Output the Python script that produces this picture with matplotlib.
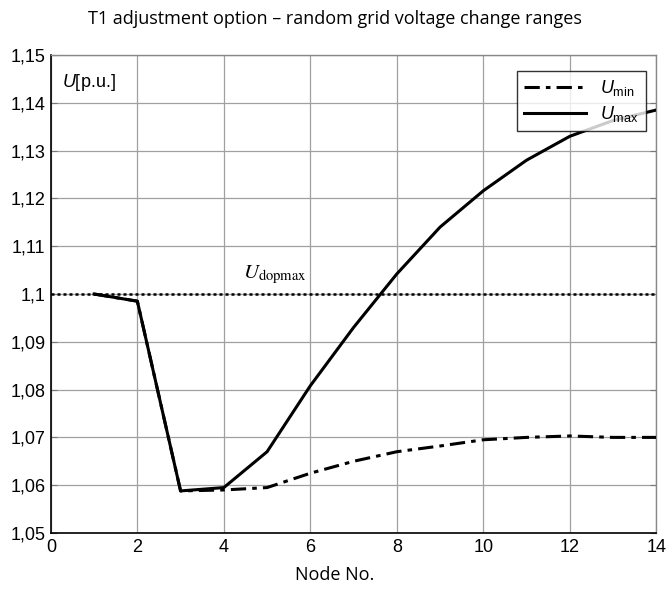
import matplotlib
matplotlib.use("Agg")
import matplotlib.pyplot as plt

nodes = [1, 2, 3, 4, 5, 6, 7, 8, 9, 10, 11, 12, 13, 14]
u_max = [1.1000, 1.0985, 1.0588, 1.0595, 1.0670, 1.0808, 1.0930, 1.1042, 1.1140,
         1.1216, 1.1280, 1.1330, 1.1363, 1.1385]
u_min = [1.1000, 1.0985, 1.0588, 1.0590, 1.0595, 1.0625, 1.0650, 1.0670, 1.0682,
         1.0695, 1.0700, 1.0703, 1.0700, 1.0700]
u_dopmax = 1.1
xticks = [0, 2, 4, 6, 8, 10, 12, 14]
yticks = [1.05, 1.06, 1.07, 1.08, 1.09, 1.10, 1.11, 1.12, 1.13, 1.14, 1.15]
ytick_labels = ["1,05", "1,06", "1,07", "1,08", "1,09", "1,1", "1,11", "1,12", "1,13", "1,14", "1,15"]

plt.rcParams["mathtext.fontset"] = "custom"
plt.rcParams["mathtext.rm"] = "Liberation Sans"
plt.rcParams["mathtext.it"] = "Liberation Sans:italic"

fig = plt.figure(figsize=(6.69, 5.92), dpi=100)
ax = fig.add_axes([0.076, 0.0997, 0.905, 0.8073])

ax.axhline(u_dopmax, color="black", linestyle=(0, (1.2, 1.2)), linewidth=1.8, zorder=2)
l1, = ax.plot(nodes, u_min, color="black", linestyle=(0, (5, 2, 1.5, 2)), linewidth=2.2, label="min", zorder=3)
l2, = ax.plot(nodes, u_max, color="black", linestyle="-", linewidth=2.2, label="max", zorder=4)

ax.set_xlim(0, 14)
ax.set_ylim(1.05, 1.15)
ax.set_xticks(xticks)
ax.set_yticks(yticks)
ax.set_yticklabels(ytick_labels)
ax.grid(True, color="#a0a0a0", linewidth=0.9)
for lab in ax.get_xticklabels() + ax.get_yticklabels():
    lab.set_family("Liberation Sans")
    lab.set_fontsize(13)
ax.tick_params(axis="both", direction="in", length=0, pad=4)
ax.tick_params(axis="y", right=True, length=4, color="#777777")
for s in ["left", "bottom"]:
    ax.spines[s].set_color("black")
    ax.spines[s].set_linewidth(1.2)
for s in ["top", "right"]:
    ax.spines[s].set_color("#888888")
    ax.spines[s].set_linewidth(1.0)

ax.text(0.25, 1.1465, r"$U$[p.u.]", fontsize=13, family="Liberation Sans",
        va="top", ha="left")
ax.text(4.45, 1.1017, r"$U_{\mathrm{dopmax}}$", fontsize=15, va="bottom", ha="left",
        math_fontfamily="stix")

leg = ax.legend([l1, l2], [r"$U_{\mathrm{min}}$", r"$U_{\mathrm{max}}$"], loc="upper right",
                fontsize=13, frameon=True, fancybox=False, edgecolor="black",
                handlelength=3.4, borderaxespad=0.5, bbox_to_anchor=(0.998, 0.985),
                labelspacing=0.3, borderpad=0.4)
leg.get_frame().set_linewidth(1.0)
leg.set_zorder(10)

fig.text(0.5, 0.968, "T1 adjustment option \u2013 random grid voltage change ranges",
         ha="center", va="center", fontsize=13, family="Open Sans")
fig.text(0.5, 0.028, "Node No.", ha="center", va="center", fontsize=13, family="Open Sans")

fig.savefig("out.png", dpi=100)
